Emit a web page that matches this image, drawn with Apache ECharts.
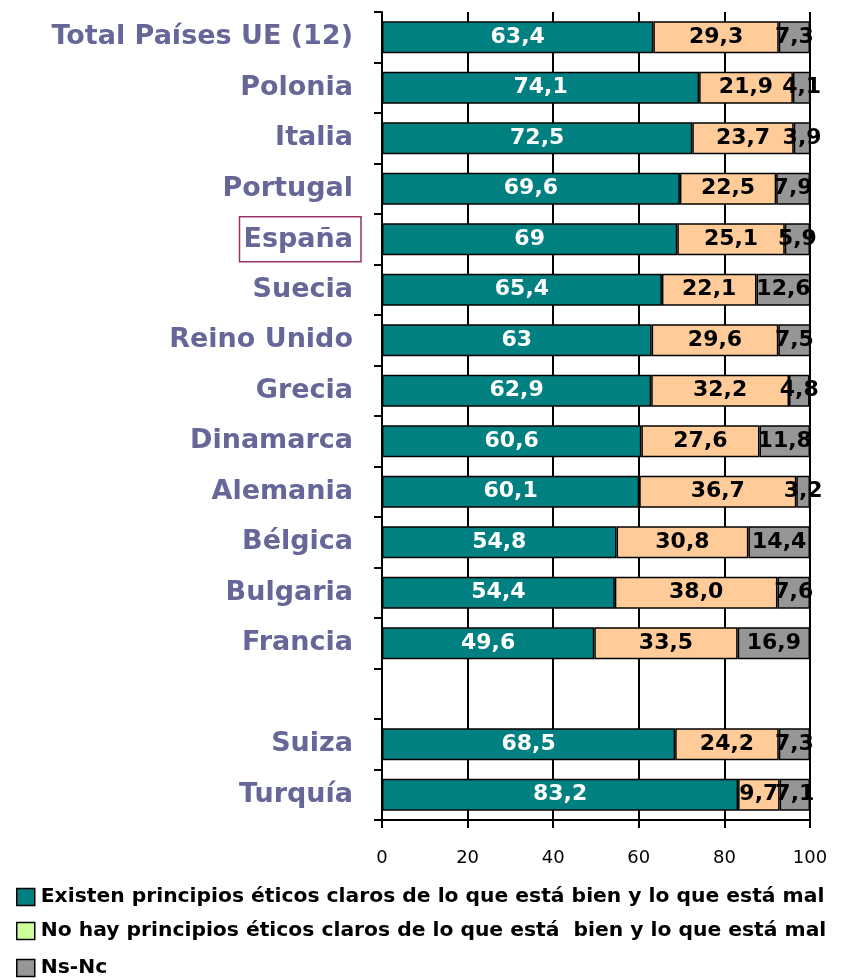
<!DOCTYPE html>
<html>
<head>
<meta charset="utf-8">
<script src="https://cdn.jsdelivr.net/npm/echarts@6/dist/echarts.min.js"></script>
<style>
  html, body { margin: 0; padding: 0; background: #fff; }
  #chart { width: 846px; height: 980px; }
</style>
</head>
<body>
<div id="chart"></div>
<script>
// Countries from top to bottom; the empty entry leaves a gap before the non-EU countries
const paises = ['Total Países UE (12)', 'Polonia', 'Italia', 'Portugal', 'España', 'Suecia',
  'Reino Unido', 'Grecia', 'Dinamarca', 'Alemania', 'Bélgica', 'Bulgaria', 'Francia', '',
  'Suiza', 'Turquía'];

// Percentages as printed (Spanish decimal comma)
const existen = ['63,4', '74,1', '72,5', '69,6', '69', '65,4', '63', '62,9', '60,6', '60,1',
  '54,8', '54,4', '49,6', null, '68,5', '83,2'];
const noHay = ['29,3', '21,9', '23,7', '22,5', '25,1', '22,1', '29,6', '32,2', '27,6', '36,7',
  '30,8', '38,0', '33,5', null, '24,2', '9,7'];
const nsnc = ['7,3', '4,1', '3,9', '7,9', '5,9', '12,6', '7,5', '4,8', '11,8', '3,2',
  '14,4', '7,6', '16,9', null, '7,3', '7,1'];

const xTicks = [0, 20, 40, 60, 80, 100];

const serieNombres = [
  'Existen principios éticos claros de lo que está bien y lo que está mal',
  'No hay principios éticos claros de lo que está  bien y lo que está mal',
  'Ns-Nc'
];

const resaltado = 'España';

function toItems(arr) {
  return arr.map(s => s === null ? { value: null, txt: '' } : { value: parseFloat(s.replace(',', '.')), txt: s });
}

const FONT = '"DejaVu Sans", Verdana, sans-serif';
const CAT_COLOR = '#666699';

function makeSeries(name, arr, color, labelColor) {
  return {
    name: name,
    type: 'bar',
    stack: 'total',
    barCategoryGap: '37%',
    data: toItems(arr),
    itemStyle: { color: color, borderColor: '#000', borderWidth: 1.5 },
    label: {
      show: true,
      position: 'inside',
      color: labelColor,
      fontFamily: FONT,
      fontWeight: 'bold',
      fontSize: 22,
      formatter: p => p.data.txt
    },
    emphasis: { disabled: true }
  };
}

// One single-item legend per line, stacked under the chart
function legendRow(idx, top, swatch) {
  return {
    orient: 'horizontal',
    left: 16,
    top: top,
    padding: 0,
    itemWidth: 18,
    itemHeight: 17,
    icon: 'rect',
    selectedMode: false,
    textStyle: {
      fontFamily: FONT,
      fontWeight: 'bold',
      fontSize: 20.3,
      color: '#000',
      padding: [0, 0, 0, 1]
    },
    data: [{ name: serieNombres[idx], itemStyle: { color: swatch, borderColor: '#000', borderWidth: 1.5 } }]
  };
}

const catStyle = { color: CAT_COLOR, fontFamily: FONT, fontWeight: 'bold', fontSize: 27 };

const chart = echarts.init(document.getElementById('chart'));
chart.setOption({
  animation: false,
  backgroundColor: '#fff',
  grid: { left: 382, right: 36, top: 12, bottom: 160, containLabel: false },
  xAxis: {
    type: 'value',
    min: 0, max: 100, interval: 20,
    axisLine: { show: true, lineStyle: { color: '#000', width: 2 } },
    axisTick: { show: true, length: 8, lineStyle: { color: '#000', width: 2 } },
    splitLine: { show: true, lineStyle: { color: '#000', width: 2 } },
    axisLabel: {
      margin: 29, color: '#000', fontSize: 18, fontFamily: FONT,
      formatter: v => xTicks.includes(v) ? String(v) : ''
    }
  },
  yAxis: {
    type: 'category',
    inverse: true,
    data: paises,
    axisLine: { show: true, lineStyle: { color: '#000', width: 2 } },
    axisTick: { show: true, length: 8, lineStyle: { color: '#000', width: 2 } },
    splitLine: { show: false },
    axisLabel: {
      margin: 21,
      formatter: v => v === resaltado ? '{box|' + v + '}' : '{n|' + v + '}',
      rich: {
        n: Object.assign({ padding: [0, 8, 0, 0] }, catStyle),
        box: Object.assign({
          borderColor: '#993366',
          borderWidth: 1.5,
          padding: [10, 8, 8, 4]
        }, catStyle)
      }
    }
  },
  legend: [
    legendRow(0, 887, '#008080'),
    legendRow(1, 921, '#CCFF99'),
    legendRow(2, 958, '#969696')
  ],
  series: [
    makeSeries(serieNombres[0], existen, '#008080', '#fff'),
    makeSeries(serieNombres[1], noHay, '#FFCC99', '#000'),
    makeSeries(serieNombres[2], nsnc, '#969696', '#000')
  ]
});
</script>
</body>
</html>
